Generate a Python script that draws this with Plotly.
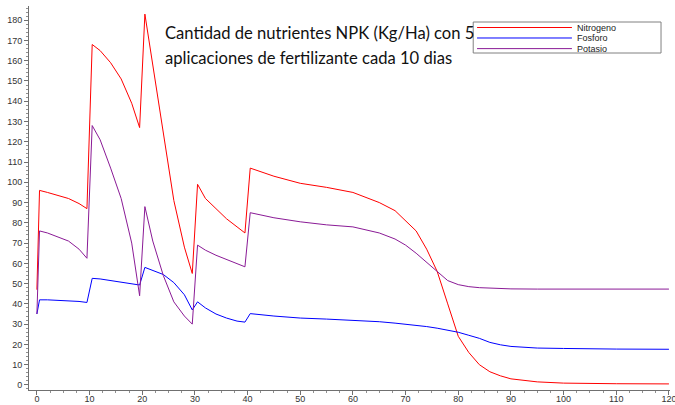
import plotly.graph_objects as go

# ---- data ----
dias = [0, 0.5, 2, 4, 6, 8, 9.5, 10.5, 12, 14, 16, 18, 19.5, 20.5, 22, 24, 26, 28, 29.5,
        30.5, 32, 34, 36, 38, 39.5, 40.5, 45, 50, 55, 60, 65, 68, 70, 72, 74, 76, 78,
        80, 82, 84, 86, 88, 90, 95, 100, 105, 110, 120]

nitrogeno = [47, 96, 95, 93.5, 92, 89.5, 87, 168, 165, 159, 151, 139, 127, 183, 158, 124, 91, 68, 55,
             99, 92, 87, 82, 78, 75, 107, 103, 99.5, 97.5, 95, 90, 86, 81, 76, 67, 56, 40,
             24, 16, 10, 6.5, 4.5, 3, 1.5, 0.9, 0.7, 0.6, 0.5]

fosforo = [35, 42, 42, 41.8, 41.5, 41.2, 40.7, 52.6, 52.3, 51.5, 50.8, 50, 49.3, 58, 56.5, 54.5, 50.5, 44.5, 37,
           41, 38, 35, 33, 31.5, 31, 35.2, 34, 33, 32.5, 32, 31.2, 30.5, 30, 29.5, 28.8, 28, 27,
           26, 24.5, 23, 21, 19.8, 19, 18.2, 18, 17.8, 17.7, 17.6]

potasio = [35, 76, 75, 73, 71, 67, 62.5, 128, 121, 107, 92, 70, 44, 88, 71, 54, 41, 34, 30,
           69, 66.5, 64, 62, 60, 58.3, 85, 82.5, 80.5, 79, 78, 75, 72, 69, 65, 60.5, 56, 51.5,
           49.5, 48.5, 48, 47.7, 47.5, 47.4, 47.3, 47.3, 47.3, 47.3, 47.3]

series_names = ["Nitrogeno", "Fosforo", "Potasio"]
series_colors = ["#ff0000", "#0000ff", "#8a1a96"]
title_lines = ["Cantidad de nutrientes NPK (Kg/Ha) con 5",
               "aplicaciones de fertilizante cada 10 dias"]

fig = go.Figure()
for name, vals, col in zip(series_names, [nitrogeno, fosforo, potasio], series_colors):
    fig.add_trace(go.Scatter(x=dias, y=vals, mode="lines", name=name,
                             line=dict(color=col, width=1), showlegend=False))

axis_common = dict(
    showgrid=False, zeroline=False, showline=True, linecolor="#707070", linewidth=1,
    ticks="outside", ticklen=4, tickcolor="#707070", tickwidth=1,
    tickfont=dict(family="Liberation Sans", size=9, color="#333333"),
    ticklabeloverflow="allow",
)

fig.update_layout(
    width=675, height=405,
    margin=dict(l=29, r=5, t=6, b=15, autoexpand=False),
    plot_bgcolor="white", paper_bgcolor="white",
    xaxis=dict(range=[-1.5, 120.2], dtick=10, tick0=0, ticklabelstandoff=-4,
               minor=dict(ticks="outside", ticklen=2, tickcolor="#909090", dtick=2.5),
               **axis_common),
    yaxis=dict(range=[-2.5, 187], dtick=10, tick0=0,
               minor=dict(ticks="outside", ticklen=2, tickcolor="#909090", dtick=2),
               **axis_common),
)

# title as two text lines
for txt, yy in zip(title_lines, [0.9297, 0.8646]):
    fig.add_annotation(text=txt, xref="paper", yref="paper", x=0.209, y=yy,
                       xanchor="left", yanchor="middle", showarrow=False,
                       font=dict(family="Lato", size=16.6, color="#111111"))

# legend box drawn like the original (long line samples)
lx0, lx1, ly0, ly1 = 0.693, 0.986, 0.8776, 0.9583
fig.add_shape(type="rect", xref="paper", yref="paper", x0=lx0, x1=lx1, y0=ly0, y1=ly1,
              line=dict(color="#808080", width=1), fillcolor="white")
leg_y = [0.944, 0.9167, 0.889]
for name, col, yy in zip(series_names, series_colors, leg_y):
    fig.add_shape(type="line", xref="paper", yref="paper", x0=0.699, x1=0.847, y0=yy, y1=yy,
                  line=dict(color=col, width=1))
    fig.add_annotation(text=name, xref="paper", yref="paper", x=0.852, y=yy,
                       xanchor="left", yanchor="middle", showarrow=False,
                       font=dict(family="Liberation Sans", size=9, color="#222222"))

fig.write_html("out.html", config={"displayModeBar": False},
               post_script="document.body.style.margin='0';")
